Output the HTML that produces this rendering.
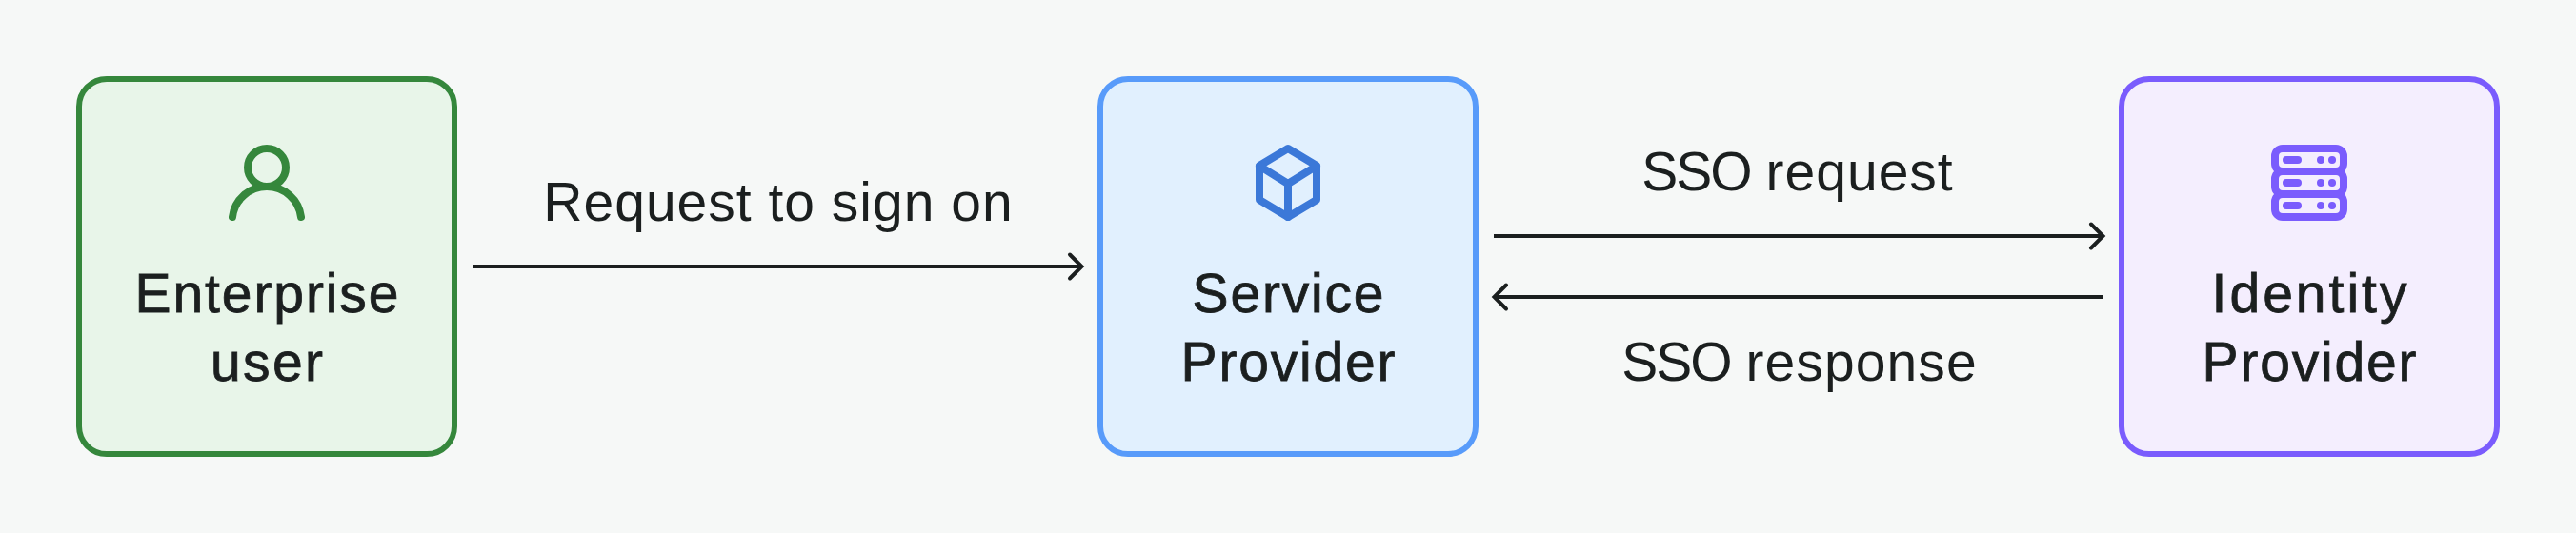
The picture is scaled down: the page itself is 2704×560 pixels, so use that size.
<!DOCTYPE html>
<html>
<head>
<meta charset="utf-8">
<style>
html,body{margin:0;padding:0;}
body{width:2704px;height:560px;background:#f6f8f7;position:relative;overflow:hidden;font-family:"Liberation Sans",sans-serif;color:#1b1f1f;}
.box{position:absolute;top:80px;width:400px;height:400px;box-sizing:border-box;border:6px solid;border-radius:32px;}
.g{left:80px;border-color:#35873c;background:#e8f5e9;}
.b{left:1152px;border-color:#589bfa;background:#e1f0fe;}
.p{left:2224px;border-color:#7a5cfd;background:#f4eefe;}
svg.ic{position:absolute;top:144px;width:96px;height:96px;}
.lbl{position:absolute;width:400px;box-sizing:border-box;text-align:center;font-size:57px;line-height:72px;-webkit-text-stroke:0.8px #1b1f1f;white-space:nowrap;}
.al{position:absolute;font-size:57px;line-height:72px;text-align:center;white-space:nowrap;}
svg.arr{position:absolute;left:0;top:0;}
</style>
</head>
<body>
<div class="box g"></div>
<div class="box b"></div>
<div class="box p"></div>

<svg class="ic" style="left:232px" viewBox="0 0 24 24" fill="none" stroke="#35873c" stroke-width="2" stroke-linecap="round" stroke-linejoin="round"><circle cx="12" cy="8" r="5"/><path d="M3 21a9.0625 9.0625 0 0 1 18 0"/></svg>

<svg class="ic" style="left:1304px" viewBox="0 0 24 24" fill="none" stroke="#3b78d8" stroke-width="2" stroke-linecap="round" stroke-linejoin="round"><path d="M12 3L19.5 7.5V16.5L12 21L4.5 16.5V7.5Z"/><path d="M4.5 7.6L12 12.25L19.5 7.6M12 12.25V21"/></svg>

<svg class="ic" style="left:2376px" viewBox="0 0 24 24" fill="none" stroke="#7a5cfd" stroke-width="2" stroke-linecap="round" stroke-linejoin="round"><rect x="3" y="3" width="18" height="6" rx="2"/><rect x="3" y="9" width="18" height="6" rx="2"/><rect x="3" y="15" width="18" height="6" rx="2"/><path d="M6 6H9M15 6H15.01M18 6H18.01M6 12H9M15 12H15.01M18 12H18.01M6 18H9M15 18H15.01M18 18H18.01"/></svg>

<div class="lbl" style="left:80px;top:272px;letter-spacing:1.9px;padding-left:1.9px">Enterprise</div>
<div class="lbl" style="left:80px;top:344px;letter-spacing:2.3px;padding-left:2.3px">user</div>
<div class="lbl" style="left:1152px;top:272px;letter-spacing:1.8px;padding-left:1.8px">Service</div>
<div class="lbl" style="left:1152px;top:344px;letter-spacing:1.8px;padding-left:1.8px">Provider</div>
<div class="lbl" style="left:2224px;top:272px;letter-spacing:3px;padding-left:3px">Identity</div>
<div class="lbl" style="left:2224px;top:344px;letter-spacing:1.8px;padding-left:1.8px">Provider</div>

<div class="al" style="left:516px;width:600px;top:176px;letter-spacing:1px;padding-left:1px">Request to sign on</div>
<div class="al" style="left:1586px;width:600px;top:144px;padding-left:1px"><span style="letter-spacing:-2px">SSO</span> <span style="letter-spacing:1px">request</span></div>
<div class="al" style="left:1588px;width:600px;top:344px;padding-left:1px"><span style="letter-spacing:-2px">SSO</span> <span style="letter-spacing:1.1px">response</span></div>

<svg class="arr" width="2704" height="560" viewBox="0 0 2704 560" fill="none" stroke="#1b1f1f" stroke-width="4">
<path d="M496 280H1135"/>
<path d="M1123 267.5L1135.5 280L1123 292.5" stroke-linecap="round" stroke-linejoin="miter"/>
<path d="M1568 248H2207"/>
<path d="M2195 235.5L2207.5 248L2195 260.5" stroke-linecap="round"/>
<path d="M1569 312H2208"/>
<path d="M1581 299.5L1568.5 312L1581 324.5" stroke-linecap="round"/>
</svg>
</body>
</html>
